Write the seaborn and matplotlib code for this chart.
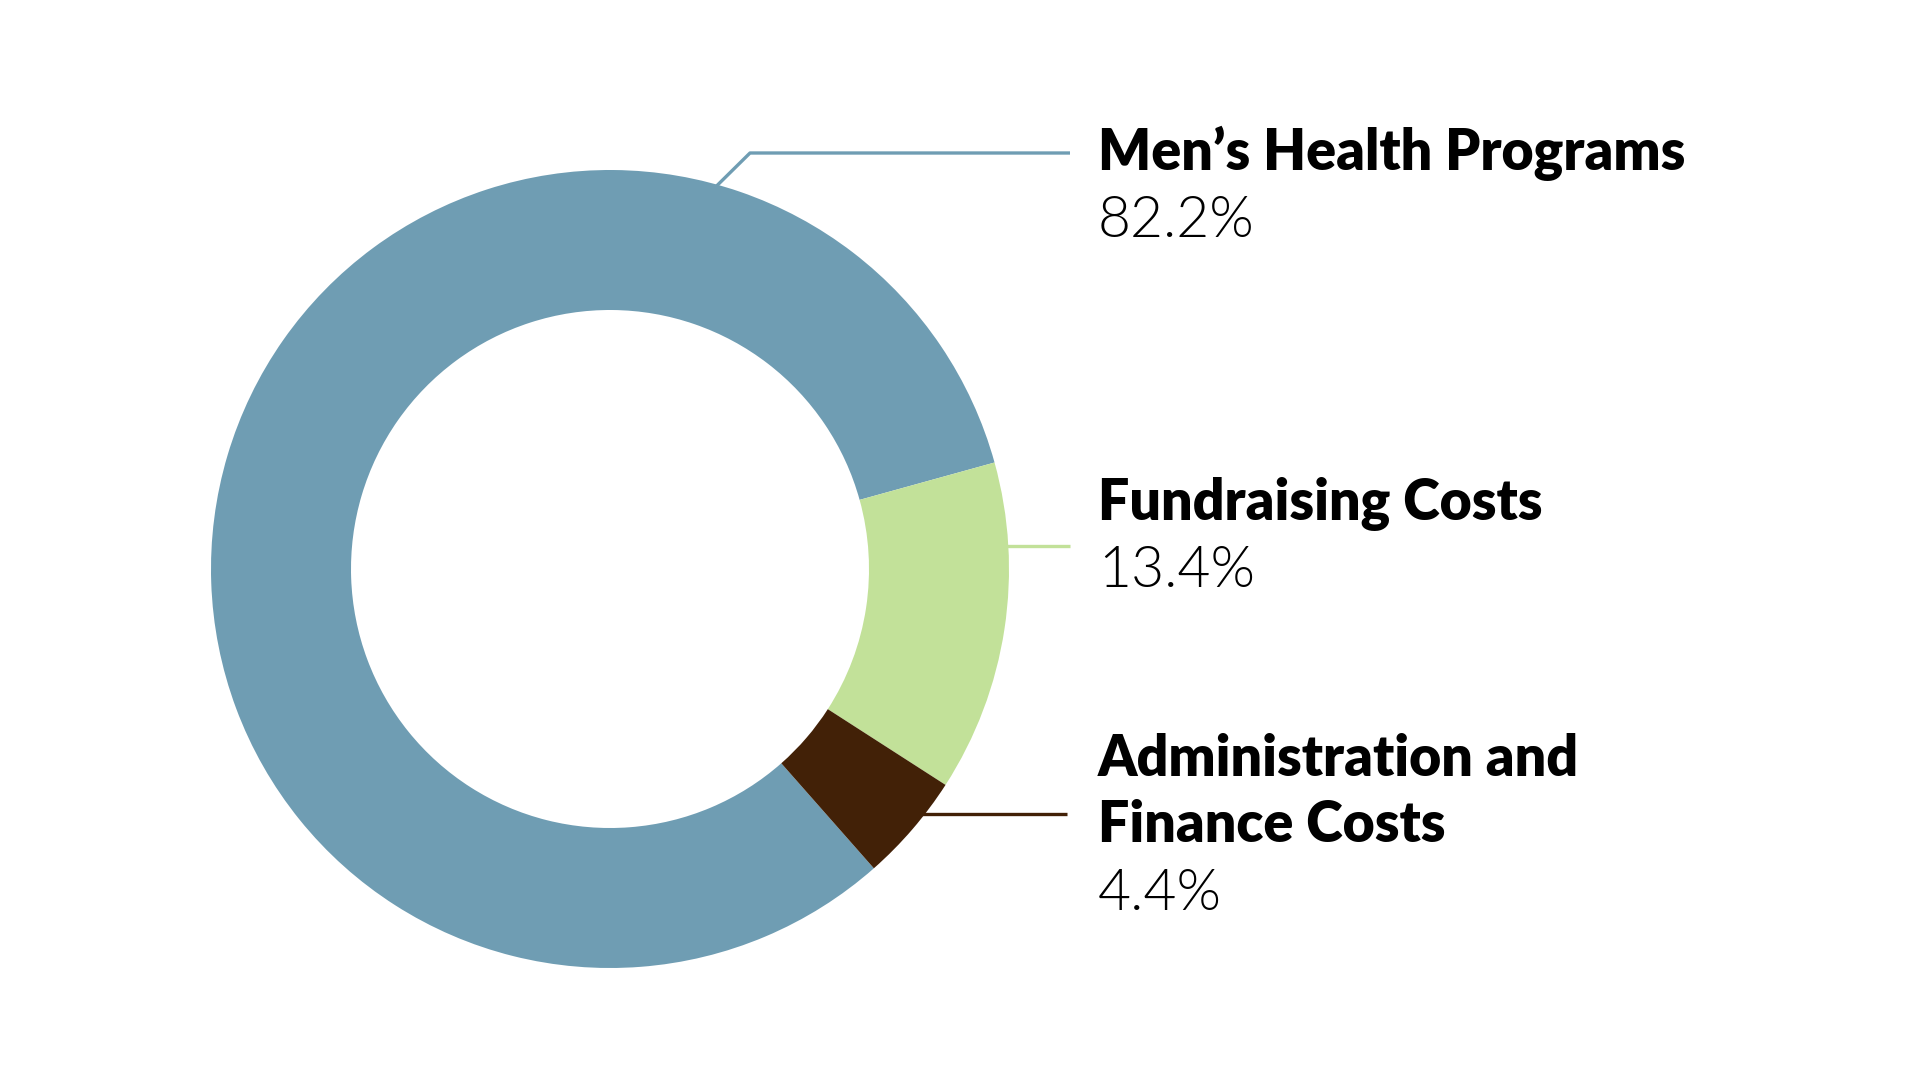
import numpy as np
import matplotlib.pyplot as plt
import seaborn as sns

# data
categories = ["Men\u2019s Health Programs", "Fundraising Costs", "Administration and\nFinance Costs"]
shares = [82.2, 13.4, 4.4]
colors = ["#6f9db3", "#c2e199", "#422107"]

sns.set_theme(style="white")
plt.rcParams['font.family'] = ['Lato', 'DejaVu Sans']

fig = plt.figure(figsize=(19.2, 10.8), dpi=100)
ax = fig.add_axes([0, 0, 1, 1])

# ring geometry in pixel units (y up)
cx, cy = 610, 511
r_out, ring_w = 399, 140

ax.pie(shares, colors=colors, center=(cx, cy), radius=r_out,
       startangle=-48.6, counterclock=False,
       wedgeprops=dict(width=ring_w, linewidth=0))

ax.set_xlim(0, 1920)
ax.set_ylim(0, 1080)
ax.set_aspect('equal')
ax.axis('off')


def ring_point(angle_deg, r=r_out - 2):
    a = np.deg2rad(angle_deg)
    return cx + r * np.cos(a), cy + r * np.sin(a)


line_end = 1070
lw = 2.4

# Men's health leader (elbow)
x0, y0 = ring_point(74.5)
ax.plot([x0, 750, line_end], [y0, 927, 927], color=colors[0], lw=lw,
        solid_capstyle='butt')
# Fundraising leader
x1, y1 = ring_point(3.4)
ax.plot([x1, line_end], [534, 534], color=colors[1], lw=lw, solid_capstyle='butt')
# Admin leader
x2, y2 = ring_point(-38.5, r_out - 8)
ax.plot([x2, line_end - 3], [266, 266], color=colors[2], lw=lw, solid_capstyle='butt')

# labels: (title baseline, pct baseline) in image rows
text_x = 1098
title_rows = [170, 520, 776]
pct_rows = [237, 587, 910]
for name, val, ty, py in zip(categories, shares, title_rows, pct_rows):
    lines = name.split("\n")
    for k, ln in enumerate(lines):
        ax.text(text_x, 1080 - ty - k * 66, ln, fontsize=40, fontweight=800,
                color='black', ha='left', va='baseline')
    ax.text(text_x, 1080 - py, f"{val:.1f}%", fontsize=41, fontweight=300,
            color='black', ha='left', va='baseline')

fig.savefig("out.png", dpi=100, facecolor='white')
